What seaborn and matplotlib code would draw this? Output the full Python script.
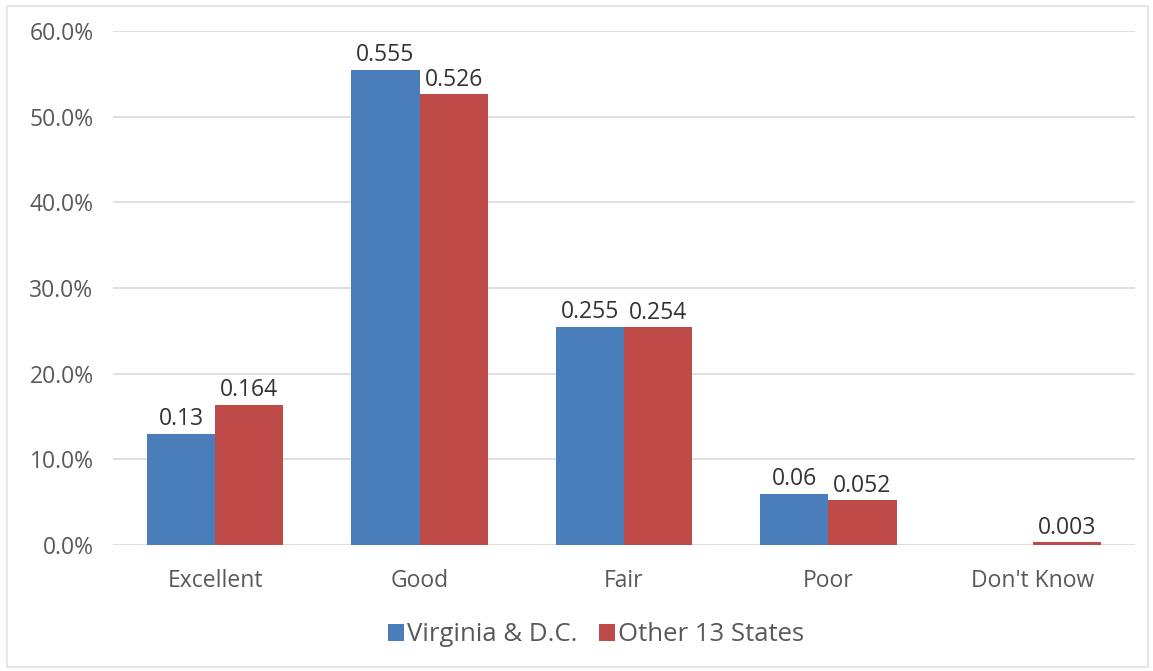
import matplotlib
matplotlib.use("Agg")
import matplotlib.pyplot as plt
from matplotlib.patches import Rectangle
from matplotlib.ticker import PercentFormatter, MultipleLocator
import numpy as np
import pandas as pd
import seaborn as sns

categories = ["Excellent", "Good", "Fair", "Poor", "Don't Know"]
series_names = ["Virginia & D.C.", "Other 13 States"]
virginia_dc = [0.13, 0.555, 0.255, 0.06, np.nan]
other_states = [0.164, 0.526, 0.254, 0.052, 0.003]
colors = ["#4A7EBB", "#BE4B48"]

df = pd.DataFrame({
    "category": categories * 2,
    "group": [series_names[0]] * len(categories) + [series_names[1]] * len(categories),
    "share": virginia_dc + other_states,
})

sns.set_theme(style="white")
plt.rcParams["font.family"] = ["Open Sans", "DejaVu Sans"]

fig = plt.figure(figsize=(11.53, 6.71), dpi=100)
ax = fig.add_axes([113 / 1153, 126 / 671, (1135 - 113) / 1153, (640 - 126) / 671])

sns.barplot(data=df, x="category", y="share", hue="group", order=categories,
            hue_order=series_names, palette=colors, width=0.667, saturation=1,
            gap=0, edgecolor="none", linewidth=0, ax=ax, legend=True)

ax.set_xlim(-0.5, len(categories) - 0.5)
ax.set_ylim(0, 0.6)
ax.yaxis.set_major_locator(MultipleLocator(0.1))
ax.yaxis.set_major_formatter(PercentFormatter(1.0, decimals=1))
ax.grid(axis="y", color="#d9d9d9", linewidth=1.2)
ax.set_axisbelow(True)
for s in ax.spines.values():
    s.set_visible(False)
ax.tick_params(axis="both", length=0, labelsize=16.5, colors="#595959")
ax.tick_params(axis="y", pad=14)
ax.tick_params(axis="x", pad=17)
ax.set_xlabel("")
ax.set_ylabel("")

# value labels above each drawn bar
series_values = [virginia_dc, other_states]
for cont, vals in zip(ax.containers, series_values):
    for bar, v in zip(cont.patches, vals):
        if bar is None or np.isnan(v):
            continue
        ax.annotate(f"{v:g}", (bar.get_x() + bar.get_width() / 2, v),
                    xytext=(0, 2), textcoords="offset points",
                    ha="center", va="bottom", fontsize=16.5, color="#333333")

handles, labels = ax.get_legend_handles_labels()
ax.legend(handles, labels, loc="center", bbox_to_anchor=(0.4726, -0.175),
          ncol=2, frameon=False, fontsize=18.5, labelcolor="#595959",
          handlelength=0.62, handleheight=0.62, handletextpad=0.1,
          columnspacing=0.85)

fig.patches.append(Rectangle((7 / 1153, 4 / 671), 1141 / 1153, 661 / 671,
                             transform=fig.transFigure, fill=False,
                             edgecolor="#e6e6e6", linewidth=1.5))

fig.savefig("out.png", dpi=100)
